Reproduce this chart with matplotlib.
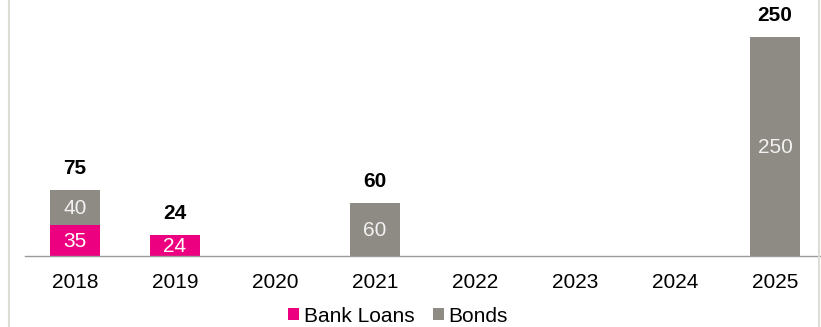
import matplotlib
matplotlib.use("Agg")
import matplotlib.pyplot as plt
from matplotlib.lines import Line2D
import numpy as np

years = ["2018", "2019", "2020", "2021", "2022", "2023", "2024", "2025"]
bank_loans = [35, 24, 0, 0, 0, 0, 0, 0]
bonds = [40, 0, 0, 60, 0, 0, 0, 250]

MAGENTA = "#EC0080"
GREY = "#8E8A84"

plt.rcParams["font.family"] = ["Liberation Sans", "DejaVu Sans"]

fig = plt.figure(figsize=(8.21, 3.27), dpi=100)
ax = fig.add_axes([25 / 821, 71 / 327, 795 / 821, 256 / 327])

x = np.arange(len(years))
bl = np.array(bank_loans)
bo = np.array(bonds)
ax.bar(x, bl, width=0.5, color=MAGENTA, label="Bank Loans")
ax.bar(x, bo, width=0.5, bottom=bl, color=GREY, label="Bonds")

# segment labels
for i in range(len(years)):
    if bl[i] > 0:
        ax.text(x[i], bl[i] / 2 - 1, str(bl[i]), ha="center", va="center",
                color="white", fontsize=15)
    if bo[i] > 0:
        ax.text(x[i], bl[i] + bo[i] / 2 - 1, str(bo[i]), ha="center", va="center",
                color="#F2F2F2", fontsize=15)
    tot = bl[i] + bo[i]
    if tot > 0:
        ax.text(x[i], tot + 14, str(tot), ha="center", va="bottom",
                fontweight="bold", fontsize=15)

ax.set_xlim(-0.5, 7.45)
ax.set_ylim(0, 292)
ax.set_xticks(x)
ax.set_xticklabels(years, fontsize=15)
ax.tick_params(axis="x", length=0, pad=12)
ax.set_yticks([])
for s in ["top", "right", "left"]:
    ax.spines[s].set_visible(False)
ax.spines["bottom"].set_color("#9A9A9A")
ax.spines["bottom"].set_linewidth(1.0)

leg = fig.legend(loc="center", bbox_to_anchor=(398 / 821, 1 - 316 / 327),
                 ncol=2, frameon=False, fontsize=15, handlelength=0.55,
                 handleheight=0.55, handletextpad=0.2, columnspacing=0.9)

# light frame lines at left and right edges
for xp in (8.5, 819):
    fig.add_artist(Line2D([xp / 821, xp / 821], [0, 1], color="#DDDDD6",
                          linewidth=1.5, transform=fig.transFigure))

fig.savefig("out.png", dpi=100)
